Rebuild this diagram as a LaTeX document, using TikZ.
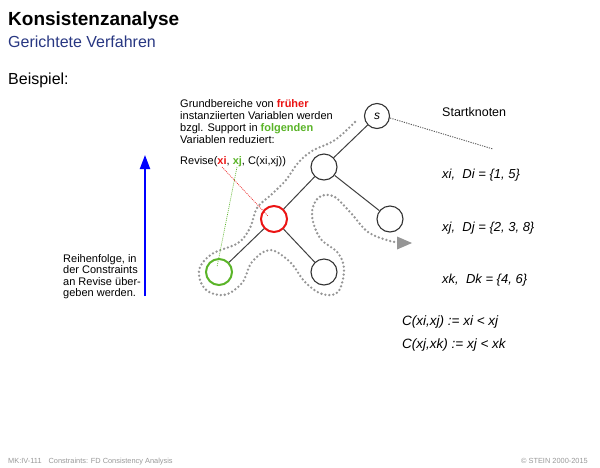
\documentclass[tikz,border=0pt]{standalone}
\usepackage{fontspec}
\setmainfont{Liberation Sans}
\usetikzlibrary{arrows.meta}
\definecolor{titleblue}{RGB}{40,55,130}
\definecolor{myred}{RGB}{235,20,20}
\definecolor{mygreen}{RGB}{90,180,40}
\definecolor{dotgray}{RGB}{150,150,150}
\tikzset{
  treenode/.style={circle,draw=black!80,line width=1.1pt,minimum size=26pt,inner sep=0pt},
  edge/.style={draw=black!75,line width=1pt},
  txt/.style={anchor=base west,inner sep=0pt,font=\fontsize{11}{12}\selectfont},
  mtxt/.style={anchor=base west,inner sep=0pt,font=\fontsize{13}{14}\selectfont\itshape},
  foot/.style={inner sep=0pt,font=\fontsize{7.4}{8}\selectfont,text=black!40},
}
\begin{document}
\begin{tikzpicture}[x=1pt,y=-1pt]
\useasboundingbox[fill=white] (0,0) rectangle (600,467);
% title
\node[anchor=base west,inner sep=0pt,font=\fontsize{19}{22}\selectfont\bfseries] (title) at (8,25) {Konsistenzanalyse};
\node[anchor=base west,inner sep=0pt,font=\fontsize{16}{18}\selectfont,text=titleblue] (sub) at (8,47) {Gerichtete Verfahren};
\node[anchor=base west,inner sep=0pt,font=\fontsize{16}{18}\selectfont] (bsp) at (8,84) {Beispiel:};
% tree
\node[treenode,minimum size=25pt] (s) at (377,116) {\fontsize{12}{12}\selectfont\itshape s};
\node[treenode] (n1) at (324,167) {};
\node[treenode,draw=myred,line width=2pt] (xi) at (274,219) {};
\node[treenode] (n3) at (390,219) {};
\node[treenode,draw=mygreen,line width=2pt] (xj) at (219,272) {};
\node[treenode] (n5) at (324,272) {};
\draw[edge] (s) -- (n1);
\draw[edge] (n1) -- (xi);
\draw[edge] (n1) -- (n3);
\draw[edge] (xi) -- (xj);
\draw[edge] (xi) -- (n5);
% traversal path
\coordinate (pend) at (412,243);
\draw[dotgray,line width=2.6pt,dash pattern=on 0pt off 4pt,line cap=round]
  plot[smooth,tension=0.6] coordinates {(355,122) (335,140) (312,151) (298,163) (286,180) (272,194) (257,208) (250,228) (238,243) (212,254) (199,270) (205,289) (224,295) (242,283) (252,262) (270,250) (290,262) (305,282) (322,294) (338,292) (344,270) (338,253) (320,238) (312,215) (318,198) (333,196) (350,212) (368,232) (390,241) (400,242)};
\fill[dotgray] (pend) -- (397,236.5) -- (397,249.5) -- cycle;
% startknoten
\coordinate (sk) at (493,149);
\draw[black!65,line width=0.9pt,dash pattern=on 1.2pt off 1.2pt] (s.east) ++(0,2) -- (sk);
\node[txt,font=\fontsize{12.5}{14}\selectfont] (start) at (442,116) {Startknoten};
% annotation
\node[txt] (g1) at (180,107) {Grundbereiche von \textcolor{myred}{\bfseries früher}};
\node[txt] (g2) at (180,119) {instanziierten Variablen werden};
\node[txt] (g3) at (180,131) {bzgl. Support in \textcolor{mygreen}{\bfseries folgenden}};
\node[txt] (g4) at (180,143) {Variablen reduziert:};
\node[txt] (rev) at (180,164) {Revise(\textcolor{myred}{\bfseries xi}, \textcolor{mygreen}{\bfseries xj}, C(xi,xj))};
\coordinate (xiend) at (268,216);
\coordinate (xjend) at (217,267);
\coordinate (xistart) at (222,167);
\coordinate (xjstart) at (237,167);
\draw[myred,line width=0.6pt,dash pattern=on 1pt off 1pt] (xistart) -- (xiend);
\draw[mygreen,line width=0.6pt,dash pattern=on 1pt off 1pt] (xjstart) -- (xjend);
% right texts
\node[mtxt] (di) at (442,178) {xi,\ \ Di = \{1, 5\}};
\node[mtxt] (dj) at (442,231) {xj,\ \ Dj = \{2, 3, 8\}};
\node[mtxt] (dk) at (442,283) {xk,\ \ Dk = \{4, 6\}};
\node[mtxt,font=\fontsize{13.5}{14}\selectfont\itshape] (c1) at (402,325) {C(xi,xj) := xi < xj};
\node[mtxt,font=\fontsize{13.5}{14}\selectfont\itshape] (c2) at (402,348) {C(xj,xk) := xj < xk};
% blue arrow
\coordinate (ab) at (145,296);
\coordinate (at) at (145,155);
\draw[blue,line width=2pt,-{Triangle[length=14pt,width=10pt]}] (ab) -- (at);
\node[txt] (r1) at (63,262) {Reihenfolge, in};
\node[txt] (r2) at (63,273.5) {der Constraints};
\node[txt] (r3) at (63,285) {an Revise über-};
\node[txt] (r4) at (63,296.5) {geben werden.};
% footer
\node[foot,anchor=base west] (f1) at (8,463) {MK:IV-111\hspace{7pt}Constraints: FD Consistency Analysis};
\node[foot,anchor=base east] (f2) at (588,463) {© STEIN 2000-2015};
\end{tikzpicture}
\end{document}
